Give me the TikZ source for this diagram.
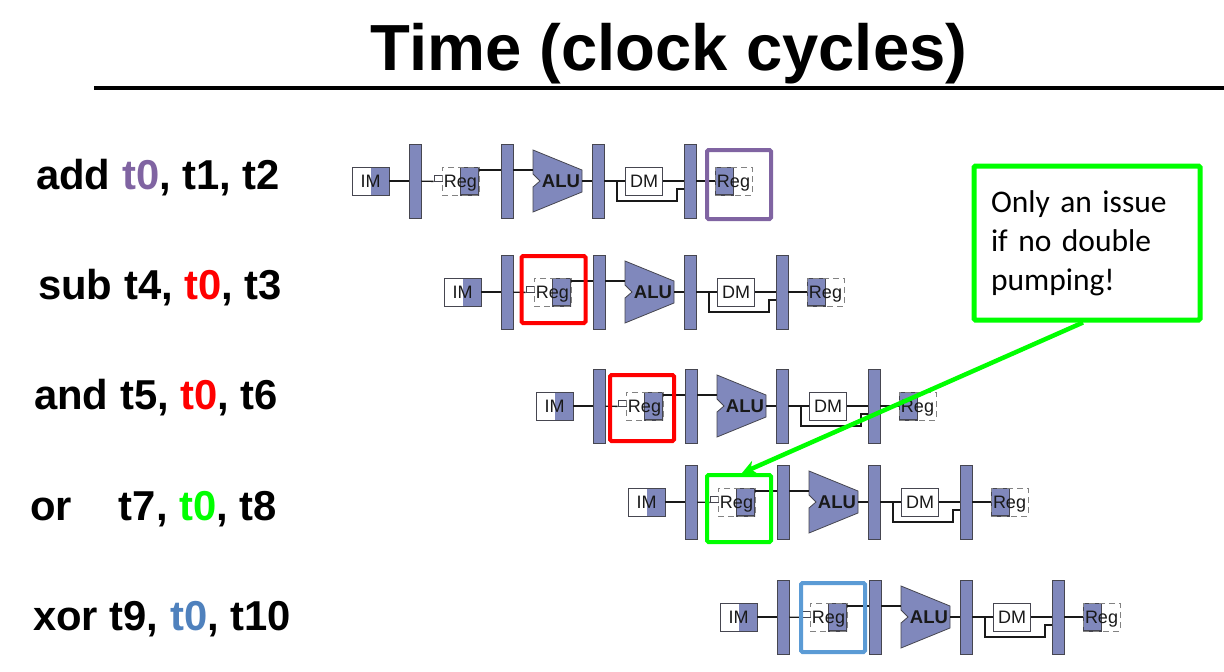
\documentclass[tikz,border=0pt]{standalone}
\usepackage{fontspec}
\setmainfont{Liberation Sans}
\newfontfamily\calloutfont{Carlito}
\usepackage{xcolor}
\usetikzlibrary{arrows.meta}

\definecolor{pipefill}{RGB}{128,136,188}
\definecolor{pipeline}{RGB}{70,70,80}
\definecolor{dashgray}{RGB}{130,130,130}
\definecolor{tpurple}{RGB}{128,100,162}
\definecolor{tblue}{RGB}{79,129,189}
\definecolor{boxblue}{RGB}{91,155,213}
\definecolor{tgreen}{RGB}{0,255,0}
\definecolor{tred}{RGB}{255,0,0}

\tikzset{
  wire/.style={line width=1.3pt, draw=black!90},
  bar/.style={rectangle, draw=pipeline, fill=pipefill, line width=0.8pt, inner sep=0pt, minimum width=12pt, minimum height=74pt},
  unit/.style={rectangle, inner sep=0pt, minimum width=37pt, minimum height=28pt, text depth=0pt, font=\fontsize{18}{20}\selectfont, text=black!90},
  fillright/.style={unit, draw=pipeline, line width=0.8pt, path picture={\fill[pipefill] (path picture bounding box.north) rectangle (path picture bounding box.south east);}},
  regread/.style={unit, draw=dashgray, line width=0.9pt, dash pattern=on 6pt off 4pt, path picture={\filldraw[fill=pipefill, draw=pipeline, solid, line width=1.2pt] (path picture bounding box.north) rectangle (path picture bounding box.south east);}},
  regwrite/.style={unit, draw=dashgray, line width=0.9pt, dash pattern=on 6pt off 4pt, path picture={\filldraw[fill=pipefill, draw=pipeline, solid, line width=1.2pt] (path picture bounding box.north west) rectangle (path picture bounding box.south);}},
  instr/.style={anchor=base west, inner sep=0pt, font=\fontsize{41.8}{44}\selectfont\bfseries},
  hilite/.style={rectangle, draw=#1, line width=4pt, inner sep=0pt, minimum width=64pt, rounded corners=1.5pt},
}

\begin{document}
\begin{tikzpicture}[x=1pt, y=-1pt]
  \useasboundingbox (0,0) rectangle (1224,672);

  % Title
  \node[anchor=base, inner sep=0pt, font=\fontsize{65.2}{70}\selectfont\bfseries] (title) at (669,70) {Time (clock cycles)};
  \coordinate (rule-a) at (94,88);
  \coordinate (rule-b) at (1224,88);
  \draw[line width=4pt] (rule-a) -- (rule-b);

  % Instructions
  \node[instr] (instr-1) at (36,189) {add \textcolor{tpurple}{t0}, t1, t2};
  \node[instr] (instr-2) at (38,299) {sub t4, \textcolor{tred}{t0}, t3};
  \node[instr] (instr-3) at (34,409) {and t5, \textcolor{tred}{t0}, t6};
  \node[instr] (instr-4) at (30,520) {or\hspace{47pt}t7, \textcolor{tgreen}{t0}, t8};
  \node[instr] (instr-5) at (33,630) {xor t9, \textcolor{tblue}{t0}, t10};

  % Pipeline rows
  \foreach \r/\dx/\dy in {1/0/0, 2/92/111, 3/184/225, 4/276/321, 5/368/436} {
    \begin{scope}[shift={(\dx,\dy)}]
      % Stage bars
      \foreach \b/\x in {1/415, 2/507, 3/598, 4/690}
        \node[bar] (bar\b-\r) at (\x,181) {};

      % Units
      \node[fillright] (im-\r) at (370.5,181) {IM};
      \node[unit, draw=pipeline, line width=0.8pt] (dm-\r) at (644,181) {DM};
      \node[rectangle, draw=pipeline, line width=0.8pt, inner sep=0pt, minimum width=8pt, minimum height=6pt] (tick-\r) at (438,178) {};
      \node[regread] (regr-\r) at (460.5,181) {Reg};
      \node[regwrite] (regw-\r) at (733.5,181) {Reg};

      % ALU
      \filldraw[draw=pipeline, fill=pipefill, line width=0.8pt] (533,150) -- (582,170) -- (582,192) -- (533,212) -- (533,187) -- (540,181) -- (533,174) -- cycle;
      \node[inner sep=0pt, font=\fontsize{18.5}{20}\selectfont\bfseries, text=black!90] (alu-\r) at (561,181) {ALU};
      \coordinate (aluin-\r) at (533,170);
      \coordinate (aluout-\r) at (582,181);
      \coordinate (tap-\r) at (617,181);

      % Wires
      \draw[wire] (im-\r) -- (bar1-\r);
      \draw[wire] (bar1-\r) -- (tick-\r.south west);
      \draw[wire] ([yshift=11pt]regr-\r.east) -- ([yshift=11pt]bar2-\r.west);
      \draw[wire] ([yshift=11pt]bar2-\r.east) -- (aluin-\r);
      \draw[wire] (aluout-\r) -- (bar3-\r);
      \draw[wire] (bar3-\r) -- (dm-\r);
      \draw[wire] (dm-\r) -- (bar4-\r);
      \draw[wire] (bar4-\r) -- (regw-\r);
      \draw[line width=1.8pt, draw=black!90] (tap-\r) -- ++(0,20) -- ++(60,0) -- ++(0,-12) -- ([yshift=-8pt]bar4-\r.west);
    \end{scope}
  }

  % Highlights
  \node[hilite=tpurple, minimum height=69pt] (box-1) at (739,184.5) {};
  \node[hilite=tred, minimum height=67pt] (box-2) at (553.5,289.5) {};
  \node[hilite=tred, minimum height=66pt] (box-3) at (642,408) {};
  \node[hilite=tgreen, minimum height=67pt] (box-4) at (739,508.5) {};
  \node[hilite=boxblue, minimum height=69pt] (box-5) at (833,617.5) {};

  % Callout
  \node[rectangle, draw=tgreen, fill=white, line width=5pt, rounded corners=1.5pt, inner sep=0pt, minimum width=226pt, minimum height=154pt, text width=192pt, align=left, font=\calloutfont\fontsize{31.5}{39}\selectfont] (callout) at (1087,243) {Only an issue\\if no double\\pumping!};
  \draw[draw=tgreen, line width=4.5pt, -{Stealth[length=14pt, width=14pt]}] ([xshift=-4pt]callout.south) -- ([xshift=3pt]box-4.north);
\end{tikzpicture}
\end{document}
